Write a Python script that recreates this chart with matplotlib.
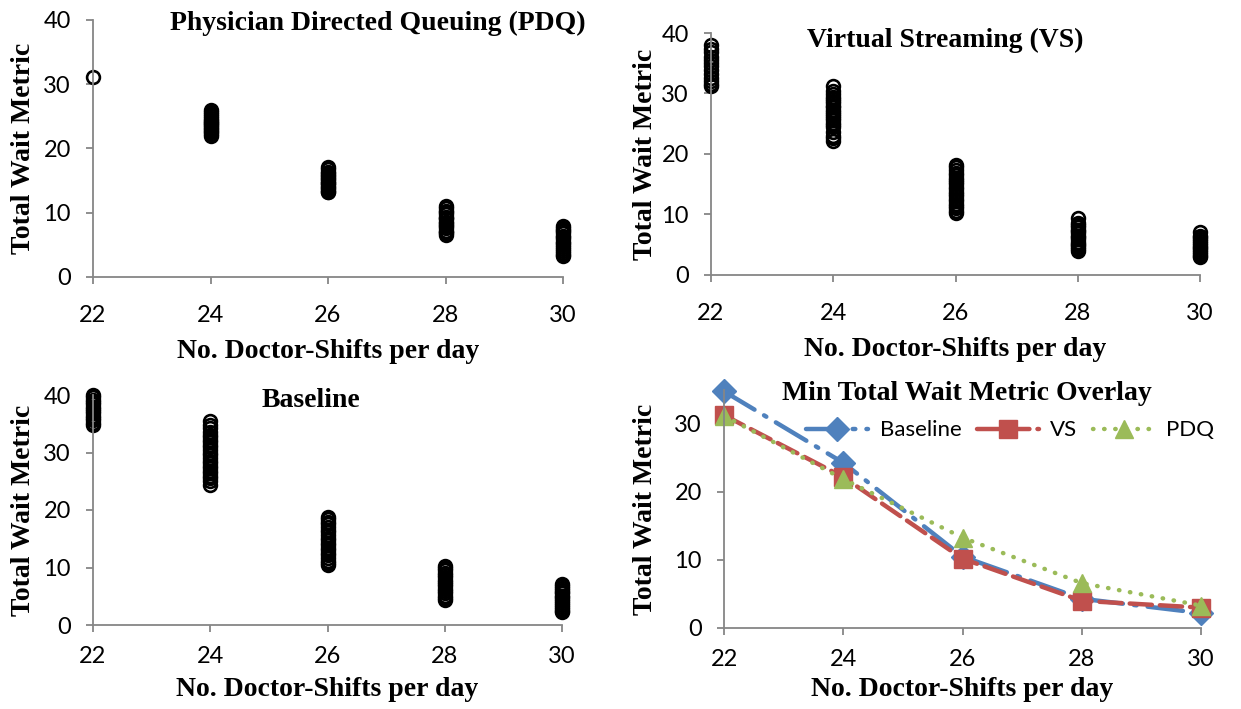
import matplotlib
matplotlib.use("Agg")
import matplotlib.pyplot as plt

# x positions (doctor-shifts per day)
shifts = [22, 24, 26, 28, 30]

# total wait metric for every run, one list per shift level
pdq_runs = [
    [31.2],
    [26.0, 25.7, 25.3, 25.1, 24.8, 24.4, 24.3, 24.0, 23.9, 23.6, 23.5, 23.2, 23.1, 22.8, 22.6, 22.3, 21.9],
    [17.1, 16.8, 16.4, 16.2, 15.9, 15.7, 15.4, 15.2, 15.0, 14.7, 14.6, 14.3, 14.0, 13.8, 13.5, 13.3, 13.3],
    [11.0, 10.7, 10.3, 10.1, 9.8, 9.4, 9.2, 9.0, 8.6, 8.4, 8.1, 7.9, 7.6, 7.2, 7.0, 6.8, 6.6],
    [8.0, 7.7, 7.3, 7.1, 6.8, 6.4, 6.2, 5.9, 5.5, 5.3, 5.0, 4.6, 4.4, 4.1, 3.7, 3.5, 3.3],
]
vs_runs = [
    [38.0, 37.4, 36.8, 36.1, 35.5, 35.0, 34.6, 33.9, 33.2, 32.6, 32.0, 31.6, 31.3],
    [31.3, 30.4, 29.9, 29.5, 29.1, 28.7, 28.4, 28.0, 27.7, 27.3, 27.0, 26.6, 26.3, 25.9,
     25.6, 25.2, 24.8, 24.4, 23.6, 23.0, 22.6, 22.2],
    [18.2, 17.8, 17.3, 16.9, 16.5, 16.1, 15.7, 15.3, 15.0, 14.6, 14.2, 13.8, 13.4, 13.0,
     12.6, 12.2, 11.8, 11.4, 11.0, 10.6, 10.2],
    [9.4, 8.6, 8.2, 7.9, 7.5, 7.2, 6.9, 6.5, 6.2, 5.9, 5.5, 5.2, 4.9, 4.6, 4.3, 4.0],
    [7.1, 6.5, 6.2, 5.9, 5.6, 5.3, 5.0, 4.7, 4.4, 4.1, 3.8, 3.5, 3.2, 3.0],
]
base_runs = [
    [40.0, 39.6, 39.2, 38.8, 38.4, 38.0, 37.6, 37.2, 36.8, 36.4, 36.0, 35.6, 35.2, 34.8],
    [35.5, 34.8, 34.2, 33.6, 33.1, 32.7, 32.2, 31.8, 31.3, 30.9, 30.4, 30.0, 29.5, 29.1,
     28.6, 28.2, 27.7, 27.3, 26.8, 26.4, 25.9, 25.5, 25.0, 24.3],
    [18.8, 18.4, 17.9, 17.5, 17.0, 16.6, 16.1, 15.7, 15.2, 14.8, 14.3, 13.9, 13.4, 13.0,
     12.5, 12.1, 11.6, 11.2, 10.8, 10.5],
    [10.3, 9.9, 9.5, 9.1, 8.7, 8.3, 7.9, 7.5, 7.1, 6.7, 6.3, 5.9, 5.5, 5.1, 4.7, 4.3],
    [7.1, 6.8, 6.5, 6.1, 5.8, 5.5, 5.1, 4.8, 4.5, 4.1, 3.8, 3.5, 3.1, 2.8, 2.5, 2.2],
]

# minimum total wait metric per shift level
base_min = [34.8, 24.3, 10.5, 4.3, 2.2]
vs_min = [31.3, 22.2, 10.2, 4.0, 3.0]
pdq_min = [31.2, 21.9, 13.3, 6.6, 3.3]

W, H = 1241, 709
GRAY = '#868686'
SERIF = 'Liberation Serif'
SANS = 'Lato'

fig = plt.figure(figsize=(W / 100, H / 100), dpi=100)


def place(l, r, t, b):
    return [l / W, (H - b) / H, (r - l) / W, (b - t) / H]


def style_axes(ax, ymax, yticks, xpad):
    ax.set_xlim(22, 30)
    ax.set_ylim(0, ymax)
    ax.set_xticks(shifts)
    ax.set_yticks(yticks)
    for s in ['top', 'right']:
        ax.spines[s].set_visible(False)
    for s in ['left', 'bottom']:
        ax.spines[s].set_color(GRAY)
        ax.spines[s].set_linewidth(1.3)
    ax.tick_params(axis='both', direction='out', length=5, width=1.3, color=GRAY,
                   labelsize=17, labelfontfamily=SANS)
    ax.tick_params(axis='x', pad=xpad)
    ax.tick_params(axis='y', pad=11)


def labels(ax, box, title, tx, ty, xl_off):
    l, r, t, b = box
    ax.text(tx, ty, title, transform=ax.transAxes, ha='center', va='center',
            fontsize=20, fontweight='bold', family=SERIF)
    fig.text(24 / W if l < 300 else 645 / W, 1 - (t + b) / 2 / H, 'Total Wait Metric',
             rotation=90, ha='center', va='center', fontsize=20, fontweight='bold', family=SERIF)
    fig.text((l + r) / 2 / W, 1 - (b + xl_off) / H, 'No. Doctor-Shifts per day',
             ha='center', va='center', fontsize=20, fontweight='bold', family=SERIF)


def scatter_panel(box, runs, title, tx, ty, xl_off, xpad):
    ax = fig.add_axes(place(*box))
    for x, vals in zip(shifts, runs):
        ax.plot([x] * len(vals), vals, 'o', ms=9.2, mfc='none', mec='black', mew=1.9,
                clip_on=False)
    style_axes(ax, 40, [0, 10, 20, 30, 40], xpad)
    labels(ax, box, title, tx, ty, xl_off)
    return ax


box1 = (93, 563, 20, 277)
box2 = (711, 1200, 33, 275)
box3 = (93, 562, 395, 625)
box4 = (724, 1201, 390, 628)

scatter_panel(box1, pdq_runs, 'Physician Directed Queuing (PDQ)', 0.605, 0.985, 74, 15)
scatter_panel(box2, vs_runs, 'Virtual Streaming (VS)', 0.48, 0.97, 74, 15)
scatter_panel(box3, base_runs, 'Baseline', 0.465, 0.975, 65, 10)

# overlay of minimum values
ax4 = fig.add_axes(place(*box4))
ax4.plot(shifts, base_min, color='#4F81BD', lw=3.2, marker='D', ms=12,
         dashes=(8, 2.5, 0.6, 2.5), solid_capstyle='round', dash_capstyle='round',
         label='Baseline', clip_on=False)
ax4.plot(shifts, vs_min, color='#C0504D', lw=3.2, marker='s', ms=12.5,
         dashes=(5, 1.8), dash_capstyle='round', label='VS', clip_on=False)
ax4.plot(shifts, pdq_min, color='#9BBB59', lw=3.2, marker='^', ms=12.5,
         dashes=(0.1, 2.4), dash_capstyle='round', label='PDQ', clip_on=False)
style_axes(ax4, 35, [0, 10, 20, 30], 10)
labels(ax4, box4, 'Min Total Wait Metric Overlay', 0.51, 0.985, 62)
ax4.legend(loc='center', bbox_to_anchor=(0.6, 0.83), ncol=3, frameon=False,
           prop={'family': SANS, 'size': 16}, handlelength=2.8, columnspacing=0.7,
           handletextpad=0.5, borderaxespad=0, borderpad=0)

fig.savefig('out.png', dpi=100)
